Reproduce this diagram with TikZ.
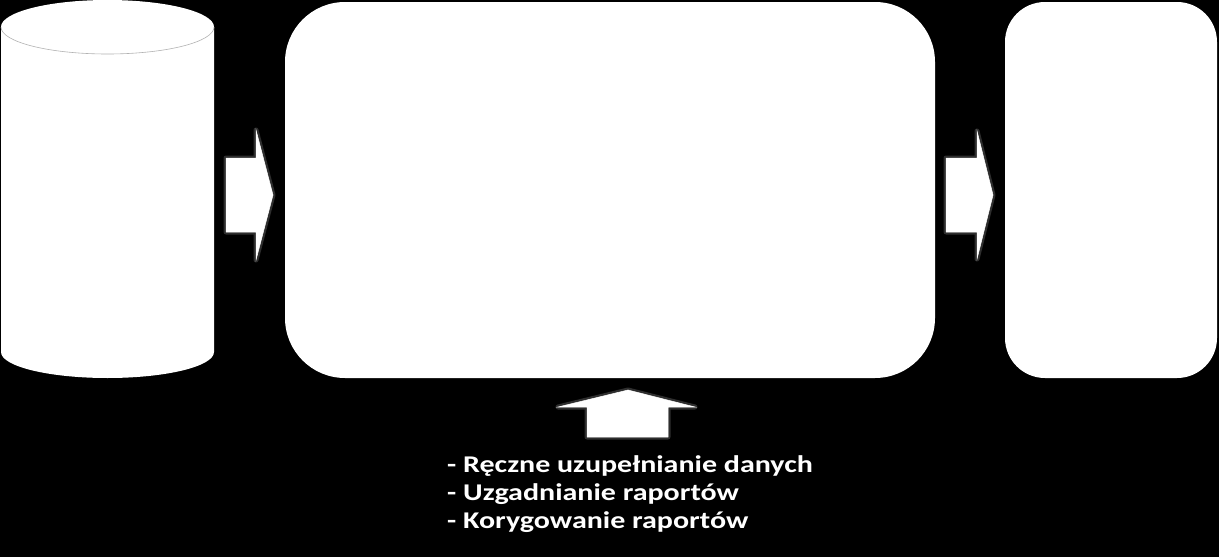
\documentclass[tikz,border=0pt]{standalone}
\usepackage{fontspec}
\setmainfont{Carlito}
\newfontfamily\notesfont[FakeStretch=1.25]{Carlito}
\usetikzlibrary{positioning,calc}

\tikzset{
  box/.style={fill=white, draw=none, inner sep=0pt},
  blockarrow/.style={fill=white, draw=white, line width=0.5pt, line join=miter},
  glow/.style={draw=white, opacity=0.18, line width=5pt, line join=round},
  notes/.style={text=white, font=\notesfont\bfseries\fontsize{24}{28.3}\selectfont, align=left, inner sep=0pt}
}

\begin{document}
\begin{tikzpicture}[x=1pt,y=-1pt]
    % Background
    \fill[black] (0,0) rectangle (1219,557);
    \useasboundingbox (0,0) rectangle (1219,557);

    % Database cylinder
    \coordinate (db) at (107.5,190);
    \fill[white] (1,27) -- (1,352) arc[start angle=180, end angle=0, x radius=106.5, y radius=26]
        -- (214,27) arc[start angle=0, end angle=-180, x radius=106.5, y radius=27] -- cycle;
    \draw[gray!60, line width=0.6pt] (1,27) arc[start angle=180, end angle=0, x radius=106.5, y radius=27];

    % Main block and output block
    \node[box, minimum width=650pt, minimum height=376pt, rounded corners=60pt] (proc) at (610,190) {};
    \node[box, minimum width=212pt, minimum height=376pt, rounded corners=40pt] (out) at (1111,190) {};

    % Block arrows
    \foreach \s in {glow, blockarrow} {
        \path[\s] (226,158) -- (256,158) -- (256,130) -- (273,195) -- (256,260) -- (256,232) -- (226,232) -- cycle;
        \path[\s] (946,158) -- (977,158) -- (977,131) -- (993,195) -- (977,259) -- (977,232) -- (946,232) -- cycle;
        \path[\s] (587,437) -- (587,407) -- (558,407) -- (628,390) -- (695,407) -- (668,407) -- (668,437) -- cycle;
    }

    % Manual tasks
    \node[notes, anchor=north west] (tasks) at (447,455)
        {- Ręczne uzupełnianie danych\\- Uzgadnianie raportów\\- Korygowanie raportów};
\end{tikzpicture}
\end{document}
